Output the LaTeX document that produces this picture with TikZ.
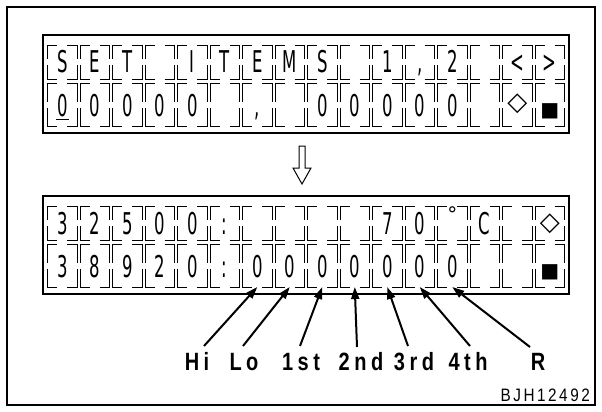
\documentclass[tikz,border=0pt]{standalone}
\usepackage{fontspec}
\setmainfont{DejaVu Sans}
\newfontfamily\lcdfont{DejaVu Sans}[FakeStretch=0.55]
\newfontfamily\symfont{DejaVu Sans}
\newfontfamily\lblfont{Liberation Sans}[FakeStretch=0.8,LetterSpace=18]
\newfontfamily\codefont{Liberation Sans}[FakeStretch=0.85,LetterSpace=14]
\usetikzlibrary{arrows.meta}
\tikzset{
  frameline/.style={line width=1.3pt},
  lcdbox/.style={line width=2.6pt},
  cellline/.style={line width=0.9pt},
  lcdch/.style={font=\lcdfont\fontsize{30}{30}\selectfont, inner sep=0pt, anchor=base},
  symch/.style={font=\symfont\fontsize{26}{26}\selectfont, inner sep=0pt},
  lbl/.style={font=\lblfont\bfseries\fontsize{25}{25}\selectfont, inner sep=0pt, anchor=base},
  code/.style={font=\codefont\fontsize{18}{18}\selectfont, inner sep=0pt, anchor=base east},
  ptr/.style={line width=2pt, -{Triangle[length=12pt,width=8pt]}},
  hollow/.style={line width=1pt, line join=miter},
}
\newcommand\lcdcellbox[3]{%
  \pgfmathsetmacro\lcdL{#1-14.8}\pgfmathsetmacro\lcdR{#1+14.8}%
  \pgfmathsetmacro\lcdHl{#1-4.8}\pgfmathsetmacro\lcdHr{#1+4.8}%
  \pgfmathsetmacro\lcdVt{(#2+#3)/2-3}\pgfmathsetmacro\lcdVb{(#2+#3)/2+3}%
  \draw[cellline] (\lcdL,\lcdVt) -- (\lcdL,#2) -- (\lcdHl,#2);
  \draw[cellline] (\lcdHr,#2) -- (\lcdR,#2) -- (\lcdR,\lcdVt);
  \draw[cellline] (\lcdL,\lcdVb) -- (\lcdL,#3) -- (\lcdHl,#3);
  \draw[cellline] (\lcdHr,#3) -- (\lcdR,#3) -- (\lcdR,\lcdVb);
}
\begin{document}
\begin{tikzpicture}[x=1pt,y=-1pt]
\useasboundingbox (0,0) rectangle (602,412);
\draw[frameline] (7,7) rectangle (595,405);
\draw[lcdbox] (43,35) rectangle (569,133);
\draw[lcdbox] (43,196) rectangle (569,294);
% cell brackets
\foreach \k in {0,...,15} {
  \pgfmathsetmacro\cx{62.25+32.5*\k}
  \lcdcellbox{\cx}{45}{79}
  \lcdcellbox{\cx}{83}{126}
  \lcdcellbox{\cx}{206}{240}
  \lcdcellbox{\cx}{244}{287}
}
% top display
\foreach \c [count=\k from 0] in {S,E,T,{},I,T,E,M,S,{},1,{,},2,{},<,>}
  \node[lcdch] (ta\k) at ({62.25+32.5*\k},73) {\c};
\foreach \c [count=\k from 0] in {0,0,0,0,0,{},{,},{},0,0,0,0,0,{},{},{}}
  \node[lcdch] (tb\k) at ({62.25+32.5*\k},116) {\c};
\draw[cellline] (56,119) -- (68.5,119);
\node[symch, anchor=center] (tbdia) at (517.25,104) {◇};
\node[symch, font=\symfont\fontsize{20}{20}\selectfont, anchor=base] (tbsq) at (549.75,116) {■};
% down arrow
\draw[hollow] (299,146) -- (305,146) -- (305,168) -- (311,168) -- (302,184) -- (293,168) -- (299,168) -- cycle;
% bottom display
\foreach \c [count=\k from 0] in {3,2,5,0,0,:,{},{},{},{},7,0,{},C,{},{}}
  \node[lcdch] (ba\k) at ({62.25+32.5*\k},234) {\c};
\node[symch, font=\symfont\fontsize{20}{20}\selectfont, anchor=center] (badeg) at (452.25,214) {°};
\node[symch, anchor=center] (badia) at (549.75,224) {◇};
\foreach \c [count=\k from 0] in {3,8,9,2,0,:,0,0,0,0,0,0,0,{},{},{}}
  \node[lcdch] (bb\k) at ({62.25+32.5*\k},277) {\c};
\node[symch, font=\symfont\fontsize{20}{20}\selectfont, anchor=base] (bbsq) at (549.75,277) {■};
% labels
\node[lbl] (lHi) at (197,370) {Hi};
\node[lbl] (lLo) at (244,370) {Lo};
\node[lbl] (l1st) at (301,370) {1st};
\node[lbl] (l2nd) at (361,370) {2nd};
\node[lbl] (l3rd) at (414,370) {3rd};
\node[lbl] (l4th) at (468,370) {4th};
\node[lbl] (lR) at (538,370) {R};
% arrow ends
\coordinate (sHi) at (204,346);  \coordinate (eHi) at (257.25,287);
\coordinate (sLo) at (243,346);  \coordinate (eLo) at (289.75,287);
\coordinate (s1st) at (300,346); \coordinate (e1st) at (322.25,287);
\coordinate (s2nd) at (357,347); \coordinate (e2nd) at (354.75,287);
\coordinate (s3rd) at (408,346); \coordinate (e3rd) at (387.25,287);
\coordinate (s4th) at (470,346); \coordinate (e4th) at (419.75,287);
\coordinate (sR) at (530,347);   \coordinate (eR) at (452.25,287);
\draw[ptr] (sHi) -- (eHi);
\draw[ptr] (sLo) -- (eLo);
\draw[ptr] (s1st) -- (e1st);
\draw[ptr] (s2nd) -- (e2nd);
\draw[ptr] (s3rd) -- (e3rd);
\draw[ptr] (s4th) -- (e4th);
\draw[ptr] (sR) -- (eR);
\node[code] (fig) at (590,401) {BJH12492};
\end{tikzpicture}
\end{document}
